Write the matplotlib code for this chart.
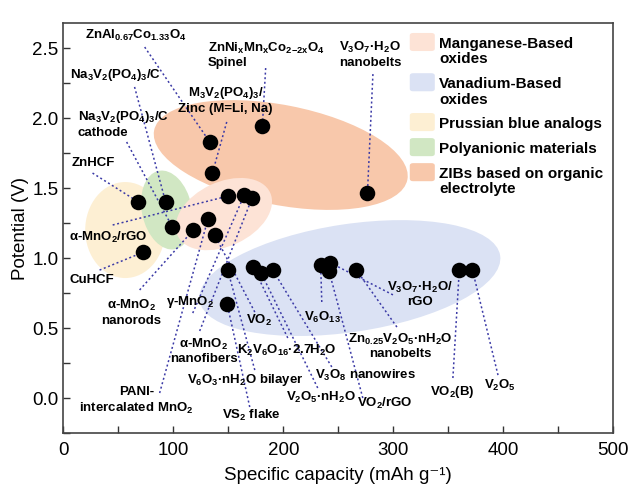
import matplotlib
matplotlib.use('Agg')
import matplotlib.pyplot as plt
from matplotlib.patches import Ellipse, FancyBboxPatch
from matplotlib.transforms import ScaledTranslation
from matplotlib.ticker import MultipleLocator

plt.rcParams['font.family'] = ['Liberation Sans', 'DejaVu Sans']
plt.rcParams['mathtext.fontset'] = 'custom'
plt.rcParams['mathtext.rm'] = 'Liberation Sans:bold'
plt.rcParams['mathtext.it'] = 'Liberation Sans:bold'
plt.rcParams['mathtext.bf'] = 'Liberation Sans:bold'

# materials: specific capacity (mAh/g) and potential (V)
names = [
    'ZnAl$_{0.67}$Co$_{1.33}$O$_4$',
    'M$_3$V$_2$(PO$_4$)$_3$/\nZinc (M=Li, Na)',
    'ZnNi$_x$Mn$_x$Co$_{2}$$_{-2x}$O$_4$\nSpinel',
    'V$_3$O$_7$·H$_2$O\nnanobelts',
    'ZnHCF',
    'Na$_3$V$_2$(PO$_4$)$_3$/C',
    'Na$_3$V$_2$(PO$_4$)$_3$/C\ncathode',
    'α-MnO$_2$/rGO',
    'γ-MnO$_2$',
    'α-MnO$_2$\nnanofibers',
    'PANI-\nintercalated MnO$_2$',
    'α-MnO$_2$\nnanorods',
    'VO$_2$',
    'CuHCF',
    'V$_6$O$_3$·nH$_2$O bilayer',
    'K$_2$V$_6$O$_{16}$·2.7H$_2$O',
    'V$_2$O$_5$·nH$_2$O',
    'V$_3$O$_8$ nanowires',
    'VS$_2$ flake',
    'V$_6$O$_{13}$',
    'VO$_2$/rGO',
    'V$_3$O$_7$·H$_2$O/\nrGO',
    'Zn$_{0.25}$V$_2$O$_5$·nH$_2$O\nnanobelts',
    'VO$_2$(B)',
    'V$_2$O$_5$',
]
capacity = [133.0, 135.5, 181.0, 276.5, 68.0, 93.0, 99.0, 150.0, 164.5, 171.5,
            131.5, 118.0, 137.5, 72.5, 149.5, 172.5, 180.0, 190.5, 149.0,
            234.0, 241.5, 242.5, 266.5, 360.0, 372.0]
potential = [1.833, 1.607, 1.947, 1.464, 1.404, 1.404, 1.226, 1.445, 1.452, 1.428,
             1.279, 1.200, 1.169, 1.043, 0.916, 0.940, 0.893, 0.916, 0.674,
             0.952, 0.912, 0.969, 0.916, 0.916, 0.916]

# where each label sits and where its leader line starts
label_x = [66.2, 147.7, 131.3, 278.7, 27.5, 47.6, 13.0, 41.2, 114.9, 127.7,
           66.7, 62.1, 177.8, 25.7, 165.9, 203.2, 234.1, 275.1, 171.4,
           235.9, 292.4, 324.2, 306.0, 353.3, 397.0]
label_y = [2.595, 2.131, 2.452, 2.459, 1.681, 2.309, 1.959, 1.152, 0.688, 0.338,
           -0.019, 0.616, 0.559, 0.845, 0.131, 0.345, 0.009, 0.166, -0.119,
           0.581, -0.034, 0.745, 0.374, 0.045, 0.095]
label_ha = ['center', 'center', 'left', 'center', 'center', 'center', 'left',
            'center', 'center', 'center', 'center', 'center', 'center', 'center',
            'center', 'center', 'center', 'center', 'center', 'center', 'center',
            'center', 'center', 'center', 'center']
line_x = [74.0, 148.6, 184.0, 281.5, 26.6, 64.8, 57.6, 44.9, 117.7, 124.0,
          87.6, 69.4, 174.1, 33.0, 174.1, 204.1, 231.3, 244.1, 169.5,
          235.0, 272.3, 299.7, 303.3, 354.2, 395.2]
line_y = [2.509, 1.974, 2.359, 2.316, 1.609, 2.224, 1.831, 1.238, 0.609, 0.481,
          0.038, 0.774, 0.616, 0.916, 0.202, 0.431, 0.074, 0.224, -0.062,
          0.688, 0.002, 0.739, 0.509, 0.145, 0.166]

# shaded groups: centre (data), size in px, angle
grp_names = ['Manganese-Based\noxides', 'Vanadium-Based\noxides',
             'Prussian blue analogs', 'Polyanionic materials',
             'ZIBs based on organic\nelectrolyte']
grp_colors = ['#fde3d6', '#dbe2f4', '#fdefd3', '#d1e7c3', '#f8c8ab']
grp_cx = [146.0, 260.5, 56.3, 94.2, 197.7]
grp_cy = [1.316, 0.859, 1.202, 1.345, 1.738]
grp_w = [102, 304, 80, 50, 258]
grp_h = [64, 108, 96, 80, 100]
grp_ang = [25, 8.5, 0, 12, -11]
grp_order = [2, 3, 4, 0, 1]

fig = plt.figure(figsize=(6.29, 4.84), dpi=100)
ax = fig.add_axes([0.1006, 0.1047, 0.8744, 0.8484])
ax.set_xlim(0, 500)
ax.set_ylim(-0.25, 2.683)

for i in grp_order:
    tr = fig.dpi_scale_trans + ScaledTranslation(grp_cx[i], grp_cy[i], ax.transData)
    ax.add_patch(Ellipse((0, 0), grp_w[i] / 100, grp_h[i] / 100, angle=grp_ang[i],
                         transform=tr, facecolor=grp_colors[i], lw=0, zorder=1))

for i in range(len(names)):
    ax.plot([line_x[i], capacity[i]], [line_y[i], potential[i]], color='#3b3aa6',
            lw=1.1, ls=(0, (1.3, 1.7)), zorder=2)
    ax.text(label_x[i], label_y[i], names[i], ha=label_ha[i], va='center',
            multialignment=label_ha[i], fontsize=9.5, fontweight='bold', zorder=4)

ax.scatter(capacity, potential, s=125, color='black', zorder=3, lw=0)

# legend with top-aligned swatches (axes fraction)
leg_top = [0.975, 0.877, 0.780, 0.719, 0.658]
leg_h = 0.0440
for i in range(len(grp_names)):
    ax.add_patch(FancyBboxPatch((0.630, leg_top[i] - leg_h), 0.0455, leg_h,
                                boxstyle='round,pad=0,rounding_size=0.006',
                                transform=ax.transAxes, facecolor=grp_colors[i],
                                lw=0, zorder=1))
    ax.text(0.683, leg_top[i] - 0.009, grp_names[i], transform=ax.transAxes,
            ha='left', va='top', fontsize=11, fontweight='bold', linespacing=1.15)

ax.xaxis.set_major_locator(MultipleLocator(100))
ax.xaxis.set_minor_locator(MultipleLocator(50))
ax.yaxis.set_major_locator(MultipleLocator(0.5))
ax.yaxis.set_minor_locator(MultipleLocator(0.25))
ax.yaxis.set_major_formatter(matplotlib.ticker.FormatStrFormatter('%.1f'))
ax.tick_params(which='both', direction='in', length=5, width=1, labelsize=13.5,
               color='#333333')
ax.tick_params(axis='x', pad=6)
for s in ax.spines.values():
    s.set_linewidth(1.2)
    s.set_color('#444444')

ax.set_xlabel('Specific capacity (mAh g⁻¹)', fontsize=13.5, labelpad=6)
ax.set_ylabel('Potential (V)', fontsize=13.5, labelpad=2)

fig.savefig('out.png', dpi=100)
